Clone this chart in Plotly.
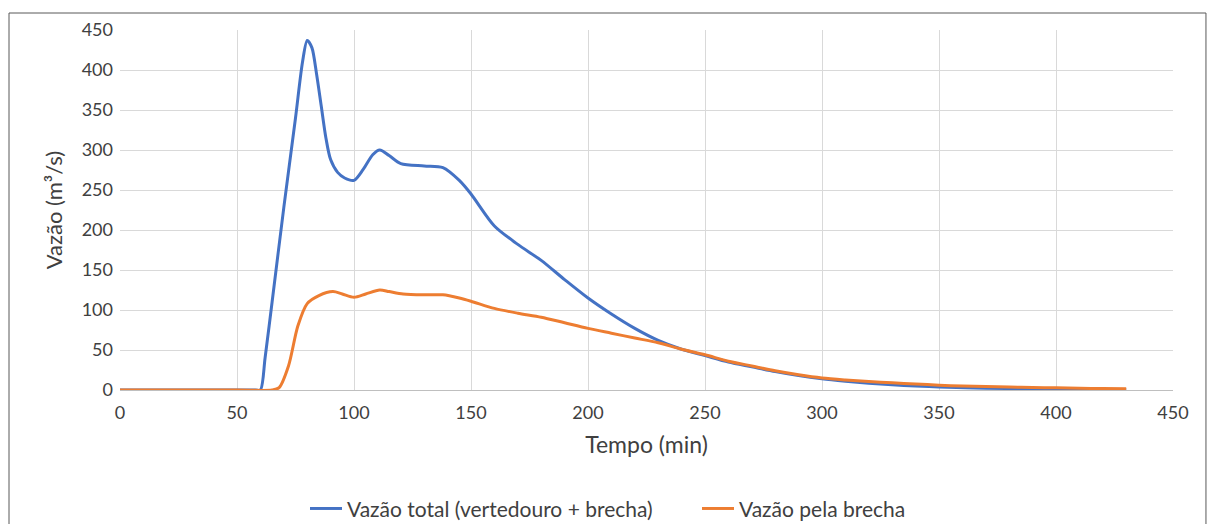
import plotly.graph_objects as go

# Data
tempo_total = [0, 50, 58, 60, 62, 65, 70, 75, 78, 80, 82, 84, 86, 88, 90, 93, 96, 100, 104, 108, 111, 115, 120,
               130, 138, 145, 150, 160, 170, 180, 190, 200, 210, 220, 230, 240, 250, 260, 270, 280,
               290, 300, 310, 320, 330, 340, 350, 370, 400, 430]
vazao_total = [0, 0, 0, 0, 40, 110, 228, 340, 410, 437, 428, 395, 355, 315, 288, 272, 265, 262, 276, 294, 300, 293, 283,
               280, 278, 262, 245, 205, 182, 162, 138, 115, 95, 77, 62, 51, 43, 35, 29, 23,
               18, 14, 11, 8.5, 6.5, 5, 3.8, 2.3, 1, 0.5]

tempo_brecha = [0, 50, 65, 68, 72, 76, 80, 85, 91, 95, 100, 105, 111, 115, 121, 130, 138, 145, 150, 160,
                170, 180, 190, 200, 210, 220, 230, 240, 250, 260, 270, 280, 290, 300, 310, 320, 330,
                340, 350, 360, 370, 380, 390, 400, 410, 420, 430]
vazao_brecha = [0, 0, 0, 3, 30, 80, 108, 118, 123, 120, 116, 120, 125, 123, 120, 119, 119, 115, 111, 102,
                96, 91, 84, 77, 71, 65, 59, 51, 44, 36, 30, 24, 19, 15, 12.5, 10.5, 9,
                7.5, 6, 5, 4.3, 3.7, 3.2, 2.7, 2.2, 1.8, 1.5]

x_ticks = [0, 50, 100, 150, 200, 250, 300, 350, 400, 450]
y_ticks = [0, 50, 100, 150, 200, 250, 300, 350, 400, 450]

FONT = "Lato"
TXT = "#404040"

fig = go.Figure()
fig.add_trace(go.Scatter(x=tempo_total, y=vazao_total, mode="lines",
                         name="Vazão total (vertedouro + brecha)",
                         line=dict(color="#4472C4", width=3, shape="spline", smoothing=0.8)))
fig.add_trace(go.Scatter(x=tempo_brecha, y=vazao_brecha, mode="lines",
                         name="Vazão pela brecha",
                         line=dict(color="#ED7D31", width=3, shape="spline", smoothing=0.8)))

fig.update_layout(
    width=1208, height=524,
    margin=dict(l=120, r=35, t=30, b=134, autoexpand=False),
    paper_bgcolor="white", plot_bgcolor="white",
    font=dict(family=FONT, size=18, color=TXT),
    showlegend=True,
    legend=dict(orientation="h", x=(305 - 120) / 1053, xanchor="left", y=-0.33, yanchor="middle",
                font=dict(family=FONT, size=21, color=TXT), itemwidth=32,
                entrywidth=345, entrywidthmode="pixels",
                bgcolor="rgba(0,0,0,0)", traceorder="normal"),
    xaxis=dict(range=[0, 450], tickvals=x_ticks, ticktext=[str(v) for v in x_ticks],
               showgrid=True, gridcolor="#D9D9D9", gridwidth=1,
               showline=True, linecolor="#BFBFBF", linewidth=1,
               zeroline=False, ticks="", tickfont=dict(size=18, color=TXT),
               ticklabelstandoff=6,
               title=dict(text="Tempo (min)", font=dict(size=23, color=TXT), standoff=15)),
    yaxis=dict(range=[0, 450], tickvals=y_ticks, ticktext=[str(v) for v in y_ticks],
               showgrid=True, gridcolor="#D9D9D9", gridwidth=1,
               showline=False, zeroline=False, ticks="",
               tickfont=dict(size=18, color=TXT), ticklabelstandoff=6,
               title=dict(text="Vazão (m³/s)", font=dict(size=22, color=TXT), standoff=12)),
    shapes=[dict(type="rect", xref="paper", yref="paper",
                 x0=-0.1054, x1=1.0313, y0=-0.60, y1=1.0472,
                 line=dict(color="#595959", width=1), fillcolor="rgba(0,0,0,0)", layer="below")],
)

fig.write_html("out.html")
